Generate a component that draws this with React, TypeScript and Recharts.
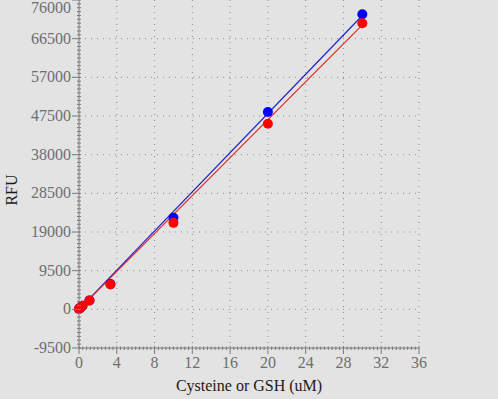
import React from 'react';
import {
  ScatterChart,
  Scatter,
  XAxis,
  YAxis,
  CartesianGrid,
} from 'recharts';

// concentrations (uM)
const conc = [0, 0.041, 0.123, 0.37, 1.11, 3.33, 10, 20, 30];
const cysteineRfu = [100, 200, 350, 850, 2200, 6200, 22500, 48500, 72500];
const gshRfu = [100, 200, 400, 850, 2150, 6100, 21250, 45600, 70300];

// linear fits, end points
const fitX = [0, 30];
const cysteineFit = [0, 72200];
const gshFit = [0, 69900];

const xTicks = [0, 4, 8, 12, 16, 20, 24, 28, 32, 36];
const yTicks = [-9500, 0, 9500, 19000, 28500, 38000, 47500, 57000, 66500, 76000];

const xMinor = Array.from({ length: 91 }, (_, i) => Math.round(i * 4) / 10);
const yMinor = Array.from({ length: 91 }, (_, i) => -9500 + i * 950);

const cysData = conc.map((x, i) => ({ x, y: cysteineRfu[i] }));
const gshData = conc.map((x, i) => ({ x, y: gshRfu[i] }));
const cysLine = fitX.map((x, i) => ({ x, y: cysteineFit[i] }));
const gshLine = fitX.map((x, i) => ({ x, y: gshFit[i] }));

const FONT = "'Liberation Serif', 'Times New Roman', serif";
const AXIS = '#7a7a7a';
const TICK_TEXT = '#6e6e6e';

const XTick = (props: any) => {
  const { x, y, payload } = props;
  const major = xTicks.includes(payload.value);
  return (
    <g>
      {major ? (
        <>
          <line x1={x} x2={x} y1={y - 2} y2={y + 6} stroke={AXIS} />
          <text x={x} y={y + 20} textAnchor="middle" fill={TICK_TEXT} fontSize={16} fontFamily={FONT}>
            {payload.value}
          </text>
        </>
      ) : (
        <line x1={x} x2={x} y1={y - 1.5} y2={y + 2} stroke={AXIS} />
      )}
    </g>
  );
};

const YTick = (props: any) => {
  const { x, y, payload } = props;
  const major = yTicks.includes(payload.value);
  const ty = Math.max(y, 8);
  return (
    <g>
      {major ? (
        <>
          <line x1={x - 7} x2={x + 2} y1={y} y2={y} stroke={AXIS} />
          <text
            x={x - 8}
            y={ty + 5}
            textAnchor="end"
            fill={TICK_TEXT}
            fontSize={16}
            fontFamily={FONT}
          >
            {payload.value}
          </text>
        </>
      ) : (
        <line x1={x - 2} x2={x + 2} y1={y} y2={y} stroke={AXIS} />
      )}
    </g>
  );
};

const Dot = (color: string) => (props: any) => (
  <circle cx={props.cx} cy={props.cy} r={5} fill={color} />
);

const NoDot = () => <g />;

export default function App() {
  return (
    <div
      style={{
        position: 'absolute',
        left: 0,
        top: 0,
        width: 498,
        height: 399,
        background: '#e3e3e3',
      }}
    >
      <ScatterChart
        width={498}
        height={399}
        margin={{ top: 0, right: 79, bottom: 0, left: 0 }}
      >
        <CartesianGrid
          horizontal
          vertical
          horizontalValues={yTicks.slice(1, -1)}
          verticalValues={xTicks.slice(1)}
          stroke="#8a8a8a"
          strokeDasharray="1 5"
        />
        <XAxis
          dataKey="x"
          type="number"
          domain={[0, 36]}
          ticks={xMinor}
          interval={0}
          tick={<XTick />}
          tickLine={false}
          tickSize={0}
          tickMargin={0}
          axisLine={{ stroke: AXIS }}
          height={51}
          label={{
            value: 'Cysteine or GSH (uM)',
            position: 'insideBottom',
            offset: 8,
            fill: '#1a1a1a',
            fontSize: 16,
            fontFamily: FONT,
          }}
        />
        <YAxis
          dataKey="y"
          type="number"
          domain={[-9500, 76000]}
          ticks={yMinor}
          interval={0}
          tick={<YTick />}
          tickLine={false}
          tickSize={0}
          tickMargin={0}
          axisLine={{ stroke: AXIS }}
          width={79}
          label={(p: any) => {
            const vb = p.viewBox;
            const cx = vb.x + 17;
            const cy = vb.y + vb.height / 2 + 16;
            return (
              <text
                x={cx}
                y={cy}
                transform={`rotate(-90 ${cx} ${cy})`}
                textAnchor="middle"
                fill="#1a1a1a"
                fontSize={16}
                fontFamily={FONT}
              >
                RFU
              </text>
            );
          }}
        />
        <Scatter
          data={cysLine}
          line={{ stroke: '#2020cc', strokeWidth: 1.2 }}
          shape={NoDot}
          isAnimationActive={false}
        />
        <Scatter
          data={gshLine}
          line={{ stroke: '#e02828', strokeWidth: 1.2 }}
          shape={NoDot}
          isAnimationActive={false}
        />
        <Scatter data={cysData} shape={Dot('#0000ff')} isAnimationActive={false} />
        <Scatter data={gshData} shape={Dot('#ff0000')} isAnimationActive={false} />
      </ScatterChart>
    </div>
  );
}
